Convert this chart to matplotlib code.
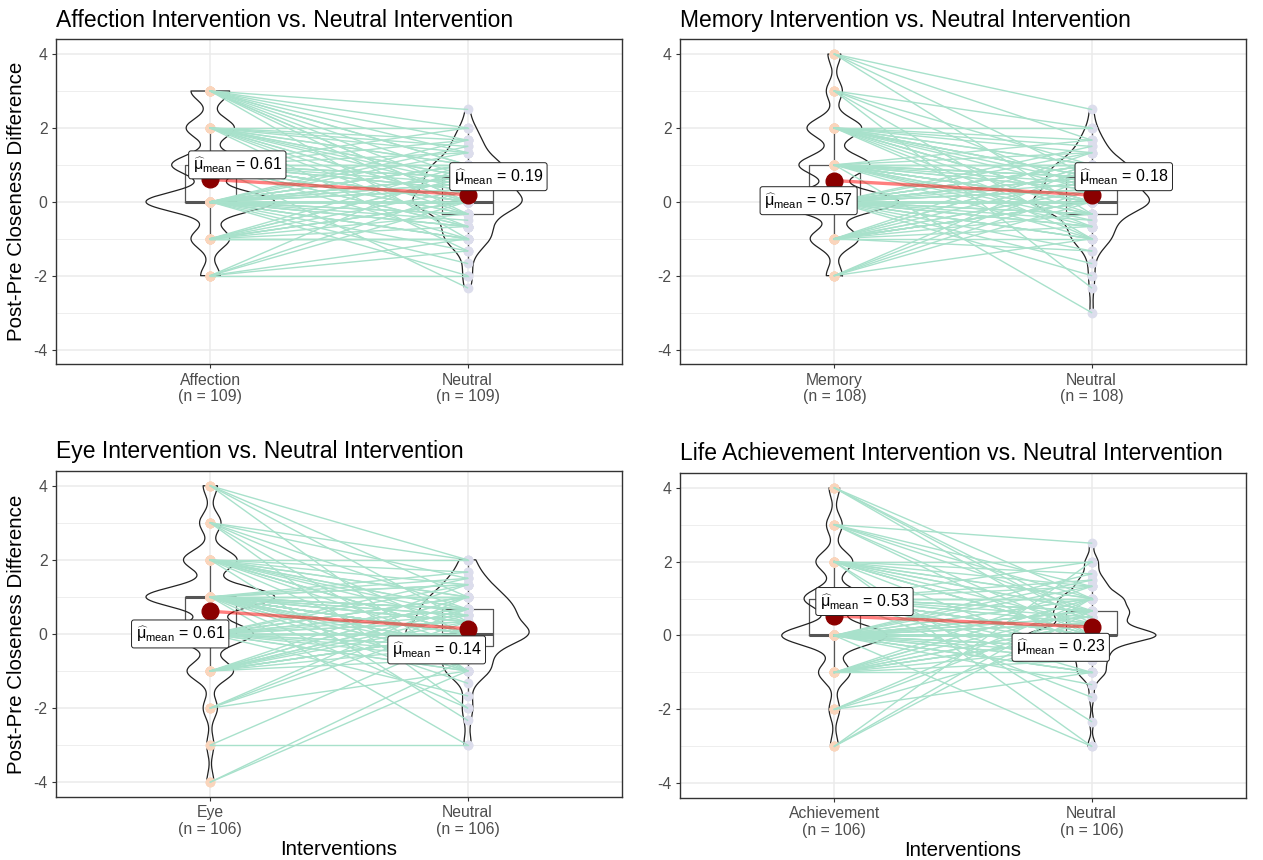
import numpy as np
import matplotlib
matplotlib.use("Agg")
import matplotlib.pyplot as plt

plt.rcParams["font.family"] = ["Liberation Sans", "DejaVu Sans"]
plt.rcParams["mathtext.fontset"] = "custom"
plt.rcParams["mathtext.rm"] = "Liberation Sans"
plt.rcParams["mathtext.it"] = "Liberation Sans:italic"
plt.rcParams["mathtext.bf"] = "Liberation Sans:bold"
plt.rcParams["axes.unicode_minus"] = False


# -----------------------------
# Data: intervention score -> neutral scores of the same participants
# -----------------------------
affection_pairs = {
    3: [2.5, 2, 1.67, 1.33, 1, 1, 0.67, 0.33, 0, 0, -0.33, -1],
    2: [2, 1.67, 1.5, 1.33, 1, 1, 0.67, 0.67, 0.5, 0.33, 0, 0, -0.33, -0.67, -1.33],
    1: [2, 1.67, 1.33, 1, 1, 1, 0.67, 0.67, 0.67, 0.5, 0.33, 0.33, 0.33, 0, 0, 0, 0, 0,
        -0.33, -0.33, -0.67, -0.67, -1, -2.33],
    0: [1.67, 1.5, 1.33, 1, 1, 1, 1, 0.67, 0.67, 0.67, 0.67, 0.5, 0.5, 0.33, 0.33, 0.33,
        0, 0, 0, 0, 0, 0, 0, 0, 0, 0, 0, -0.33, -0.33, -0.33, -0.5, -0.67, -0.67, -0.67,
        -1, -1, -1, -1.33, -1.67, -2],
    -1: [1, 0.67, 0.67, 0.33, 0, 0, 0, -0.33, -0.67, -1, -1, -1],
    -2: [1, 0.33, 0, -1, -1.33, -2],
}

memory_pairs = {
    4: [2.5, 1.67, 0.67, -0.33],
    3: [2, 1, 0.33, -1, -2.33],
    2: [2, 1.67, 1.5, 1.33, 1, 1, 0.67, 0.67, 0.67, 0.5, 0.33, 0, 0, 0, -0.33, -0.67, -1],
    1: [1.67, 1.33, 1, 1, 1, 0.67, 0.67, 0.67, 0.5, 0.33, 0.33, 0, 0, 0, 0, 0,
        -0.33, -0.33, -0.5, -0.67, -1, -3],
    0: [1.5, 1.33, 1, 1, 0.67, 0.67, 0.67, 0.67, 0.67, 0.5, 0.33, 0.33, 0.33,
        0, 0, 0, 0, 0, 0, 0, 0, 0, 0, 0, 0, -0.33, -0.33, -0.33, -0.5,
        -0.67, -0.67, -0.67, -1, -1, -1, -1.33, -1.67, -2, 1, 1],
    -1: [1.33, 1, 1, 0.67, 0.33, 0.33, 0, 0, 0, 0, 0, -0.33, -0.67, -1, -1.33],
    -2: [1, 0.67, 0.33, 0, -1],
}

eye_pairs = {
    4: [2, 1, 0.33, -1],
    3: [2, 1.5, 0.67, 0, -1, -2],
    2: [2, 1.67, 1.33, 1, 1, 0.67, 0.67, 0.5, 0.33, 0, 0, 0, -0.33, -1, -2.33],
    1: [1.67, 1.5, 1.33, 1.33, 1, 1, 1, 0.67, 0.67, 0.67, 0.67, 0.5, 0.5, 0.33, 0.33, 0.33,
        0, 0, 0, 0, 0, 0, 0, 0, 0, -0.33, -0.33, -0.33, -0.5, -0.67, -0.67, -1, -1,
        -1.33, -2, -3],
    0: [1.5, 1.33, 1, 1, 1, 0.67, 0.67, 0.5, 0.33, 0.33, 0, 0, 0, 0, 0, 0, 0,
        -0.33, -0.33, -0.5, -0.67, -1, -1, -1.67],
    -1: [1.33, 1, 1, 0.67, 0.67, 0.5, 0.33, 0, 0, 0, 0, -0.33, -0.67],
    -2: [1, 0.67, 0.33, -1],
    -3: [0, -3],
    -4: [-1, -0.67],
}

achievement_pairs = {
    4: [1, 0.5, 0.33, 0],
    3: [2.5, 1.33, 1, 0.67, 0, -0.33],
    2: [2, 1.67, 1.33, 1, 1, 0.67, 0.67, 0.33, 0, 0, 0, -0.67, -2.33, -3],
    1: [2, 1.5, 1.33, 1, 1, 1, 0.67, 0.67, 0.67, 0.5, 0.33, 0.33, 0, 0, 0, 0, 0, 0,
        -0.33, -0.5, -0.67, -1, -1.67],
    0: [1.67, 1.5, 1.33, 1, 1, 0.67, 0.67, 0.67, 0.67, 0.5, 0.5, 0.33, 0.33, 0.33,
        0, 0, 0, 0, 0, 0, 0, 0, 0, 0, 0, 0, 0, 0, 0, -0.33, -0.33, -0.33, -0.5,
        -0.67, -0.67, -1, -1, -1, -1.33, -3],
    -1: [1.33, 1, 1, 0.67, 0.33, 0.33, 0, 0, 0, -0.33, -0.67, -1],
    -2: [1, 0.67, 0, -1],
    -3: [2, 1, 0.67],
}

group_names = ["Affection", "Memory", "Eye", "Achievement"]
titles = [
    "Affection Intervention vs. Neutral Intervention",
    "Memory Intervention vs. Neutral Intervention",
    "Eye Intervention vs. Neutral Intervention",
    "Life Achievement Intervention vs. Neutral Intervention",
]

# label centres (data coords) for the mean labels, left / right group
label_pos = [
    ((1.105, 1.0), (2.12, 0.68)),
    ((0.90, 0.03), (2.125, 0.68)),
    ((0.883, 0.0), (1.88, -0.43)),
    ((1.117, 0.92), (1.88, -0.32)),
]

LINE_COL = "#A8E1CB"
LEFT_PT = "#FAD5BC"
RIGHT_PT = "#DCDDEC"


def expand(pairs):
    left, right = [], []
    for k, vals in pairs.items():
        left += [k] * len(vals)
        right += vals
    return np.array(left, float), np.array(right, float)


def bw_nrd0(x):
    sd = np.std(x, ddof=1)
    q75, q25 = np.percentile(x, [75, 25])
    lo = min(sd, (q75 - q25) / 1.34)
    return 0.9 * lo * len(x) ** -0.2


def kde(x, grid):
    bw = bw_nrd0(x)
    z = (grid[:, None] - x[None, :]) / bw
    return np.exp(-0.5 * z ** 2).sum(axis=1) / (len(x) * bw * np.sqrt(2 * np.pi))


def draw_panel(ax, pairs, name, title, labels, show_ylab, show_xlab):
    left, right = expand(pairs)
    n = len(left)

    # boxplots
    ax.boxplot([left, right], positions=[1, 2], widths=0.2, showcaps=False,
               showfliers=False,
               boxprops=dict(color="#555555", lw=0.9),
               whiskerprops=dict(color="#555555", lw=0.9),
               medianprops=dict(color="#555555", lw=2.2),
               zorder=2)

    # violins (area-scaled, trimmed)
    grids = [np.linspace(v.min(), v.max(), 512) for v in (left, right)]
    dens = [kde(v, g) for v, g in zip((left, right), grids)]
    dmax = max(d.max() for d in dens)
    for pos, g, d in zip([1, 2], grids, dens):
        hw = 0.25 * d / dmax
        xs = np.r_[pos + hw, (pos - hw)[::-1], pos + hw[0]]
        ys = np.r_[g, g[::-1], g[0]]
        ax.plot(xs, ys, color="#222222", lw=0.9, zorder=2.5)

    # raw points
    ax.scatter(np.ones(n), left, s=50, color=LEFT_PT, lw=0, zorder=3)
    ax.scatter(np.full(n, 2.0), right, s=50, color=RIGHT_PT, lw=0, zorder=3)

    # paired paths
    for a, b in zip(left, right):
        ax.plot([1, 2], [a, b], color=LINE_COL, lw=1.0, zorder=4)

    # means
    means = [left.mean(), right.mean()]
    ax.plot([1, 2], means, color="red", alpha=0.5, lw=2.4, zorder=5)
    ax.plot([1, 2], means, "o", color="darkred", ms=12, zorder=6)
    for m, (lx, ly) in zip(means, labels):
        ax.text(lx, ly, r"$\widehat{\mathrm{\mu}}_{\mathrm{mean}}\,=\,%.2f$" % m, fontsize=11.5,
                ha="center", va="center", zorder=7,
                bbox=dict(boxstyle="round,pad=0.25,rounding_size=0.15",
                          fc="white", ec="#222222", lw=0.7))

    ax.set_xlim(0.4, 2.6)
    ax.set_ylim(-4.4, 4.4)
    ax.set_xticks([1, 2])
    ax.set_xticklabels([f"{name}\n(n = {n})", f"Neutral\n(n = {n})"], linespacing=1.15)
    ax.set_yticks([-4, -2, 0, 2, 4])
    ax.set_yticks([-3, -1, 1, 3], minor=True)
    ax.set_axisbelow(True)
    ax.grid(which="major", color="#EBEBEB", lw=1.1)
    ax.grid(which="minor", axis="y", color="#EBEBEB", lw=0.6)
    ax.tick_params(which="major", length=3, width=0.8, color="#333333",
                   labelcolor="#4D4D4D", labelsize=11.3, pad=3)
    ax.tick_params(which="minor", length=0)
    for sp in ax.spines.values():
        sp.set_color("#333333")
        sp.set_linewidth(1.0)

    ax.set_title(title, loc="left", fontsize=16.5, pad=9, color="black")
    if show_ylab:
        ax.set_ylabel("Post-Pre Closeness Difference", fontsize=14.8, labelpad=5)
    if show_xlab:
        ax.set_xlabel("Interventions", fontsize=14.8, labelpad=2)


fig = plt.figure(figsize=(12.63, 8.6), dpi=100)
rects = [
    [0.0443, 0.5764, 0.4481, 0.3779],
    [0.5384, 0.5764, 0.4481, 0.3779],
    [0.0443, 0.0733, 0.4481, 0.3791],
    [0.5384, 0.0721, 0.4481, 0.3779],
]
all_pairs = [affection_pairs, memory_pairs, eye_pairs, achievement_pairs]

for i in range(4):
    ax = fig.add_axes(rects[i])
    draw_panel(ax, all_pairs[i], group_names[i], titles[i], label_pos[i],
               show_ylab=(i % 2 == 0), show_xlab=(i >= 2))

fig.savefig("out.png", dpi=100)
